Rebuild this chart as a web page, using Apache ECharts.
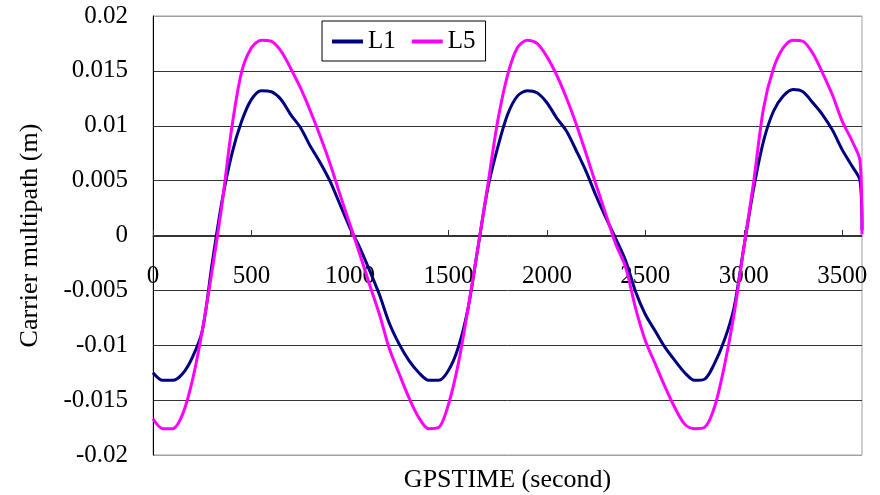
<!DOCTYPE html>
<html>
<head>
<meta charset="utf-8">
<script src="https://cdn.jsdelivr.net/npm/echarts@6/dist/echarts.min.js"></script>
<style>
html,body{margin:0;padding:0;background:#fff;}
#chart{width:880px;height:495px;}
</style>
</head>
<body>
<div id="chart"></div>
<script>
const times = [0,50,100,150,200,250,300,350,400,450,500,550,600,650,700,750,800,850,900,950,
  1000,1050,1100,1150,1200,1250,1300,1350,1400,1450,1500,1550,1600,1650,1700,1750,1800,1850,1900,1950,
  2000,2050,2100,2150,2200,2250,2300,2350,2400,2450,2500,2550,2600,2650,2700,2750,2800,2850,2900,2950,
  3000,3050,3100,3150,3200,3250,3300,3350,3400,3450,3500,3550,3590,3600];

const l1 = [-0.0125,-0.0132,-0.0132,-0.0126,-0.0111,-0.0087,-0.0026,0.0031,0.0074,0.0104,
  0.0124,0.0132,0.0131,0.0124,0.0110,0.0098,0.0081,0.0066,0.0049,0.0028,
  0.0007,-0.0011,-0.0032,-0.0054,-0.0080,-0.0099,-0.0114,-0.0125,-0.0132,-0.0132,
  -0.0123,-0.0102,-0.0066,-0.0011,0.0043,0.0080,0.0110,0.0127,0.0132,0.0130,
  0.0121,0.0107,0.0095,0.0077,0.0058,0.0036,0.0016,-0.0003,-0.0023,-0.0051,
  -0.0072,-0.0087,-0.0102,-0.0114,-0.0125,-0.0132,-0.0131,-0.0117,-0.0096,-0.0066,
  -0.0011,0.0043,0.0086,0.0113,0.0127,0.0133,0.0131,0.0121,0.0110,0.0096,
  0.0078,0.0063,0.0050,0.0005];

const l5 = [-0.0167,-0.0176,-0.0176,-0.0163,-0.0132,-0.0087,-0.0032,0.0028,0.0098,0.0149,
  0.0171,0.0178,0.0177,0.0168,0.0152,0.0134,0.0113,0.0090,0.0065,0.0037,
  0.0010,-0.0017,-0.0045,-0.0072,-0.0103,-0.0126,-0.0148,-0.0166,-0.0176,-0.0175,
  -0.0154,-0.0117,-0.0066,-0.0011,0.0046,0.0104,0.0146,0.0171,0.0178,0.0175,
  0.0163,0.0146,0.0125,0.0101,0.0074,0.0046,0.0019,-0.0008,-0.0029,-0.0066,
  -0.0096,-0.0117,-0.0138,-0.0157,-0.0172,-0.0176,-0.0175,-0.0157,-0.0120,-0.0072,
  -0.0011,0.0049,0.0116,0.0152,0.0171,0.0178,0.0177,0.0166,0.0148,0.0128,
  0.0104,0.0086,0.0068,0.0001];

const seriesNames = ['L1','L5'];
const xTitle = 'GPSTIME (second)';
const yTitle = 'Carrier multipath (m)';

const FONT = '"Liberation Serif","Times New Roman",serif';
const chart = echarts.init(document.getElementById('chart'), null, {renderer:'canvas'});

const pairs = (ys) => times.map((t,i)=>[t, ys[i]]);

chart.setOption({
  animation:false,
  backgroundColor:'#ffffff',
  textStyle:{fontFamily:FONT},
  grid:{left:153,right:18,top:16,bottom:40,show:true,borderColor:'#a0a0a0',borderWidth:1,
        containLabel:false, outerBoundsMode:'none'},
  legend:{
    left:322, top:21,
    padding:[8,10,7,10],
    itemGap:16,
    icon:'rect',
    itemWidth:31, itemHeight:4,
    borderColor:'#000', borderWidth:1, backgroundColor:'#fff',
    textStyle:{fontFamily:FONT,fontSize:25,color:'#000',lineHeight:25},
    data:seriesNames
  },
  xAxis:{
    type:'value', min:0, max:3600, interval:500,
    position:'bottom', offset:-219,
    name:xTitle, nameLocation:'middle', nameGap:231,
    nameTextStyle:{fontFamily:FONT,fontSize:26,color:'#000'},
    axisLine:{show:true,onZero:false,lineStyle:{color:'#333',width:1}},
    axisTick:{show:true,inside:true,length:6,lineStyle:{color:'#333'}},
    axisLabel:{fontFamily:FONT,fontSize:25,color:'#000',margin:28,showMaxLabel:false,
      formatter:(v)=>String(v)},
    splitLine:{show:false}
  },
  yAxis:{
    type:'value', min:-0.02, max:0.02, interval:0.005,
    name:yTitle, nameLocation:'middle', nameGap:110, nameRotate:90,
    nameTextStyle:{fontFamily:FONT,fontSize:26,color:'#000'},
    axisLine:{show:true,lineStyle:{color:'#000',width:1}},
    axisTick:{show:false},
    axisLabel:{fontFamily:FONT,fontSize:25,color:'#000',margin:25,
      formatter:(v)=>String(parseFloat(v.toFixed(3)))},
    splitLine:{show:true,lineStyle:{width:1,color:['#a0a0a0','#333','#333','#333','#333','#333','#333','#333','#a0a0a0']}}
  },
  series:[
    {name:seriesNames[0],type:'line',data:pairs(l1),symbol:'none',smooth:0.3,
     lineStyle:{color:'#000080',width:3},itemStyle:{color:'#000080'}},
    {name:seriesNames[1],type:'line',data:pairs(l5),symbol:'none',smooth:0.3,
     lineStyle:{color:'#ff00ff',width:3},itemStyle:{color:'#ff00ff'}}
  ]
});
</script>
</body>
</html>
